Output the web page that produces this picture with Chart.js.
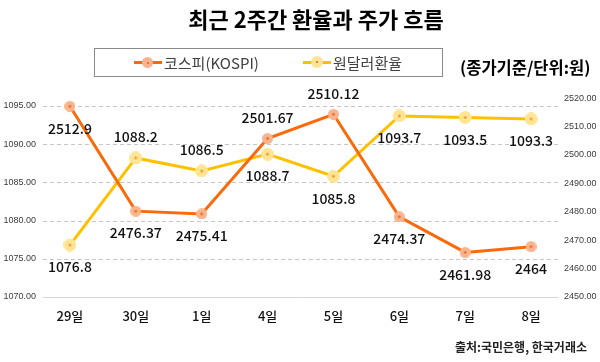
<!DOCTYPE html>
<html><head><meta charset="utf-8">
<script src="https://cdn.jsdelivr.net/npm/chart.js@4/dist/chart.umd.min.js"></script>
<style>
html,body{margin:0;padding:0;background:#fff;}
#wrap{position:relative;width:600px;height:362px;overflow:hidden;font-family:"Noto Sans CJK KR","Noto Sans",sans-serif;}
canvas{position:absolute;left:0;top:0;}
.t{position:absolute;white-space:nowrap;}
#title{left:116px;width:400px;top:4px;line-height:28px;text-align:center;font-size:22px;font-weight:bold;color:#000;}
#legbox{position:absolute;left:94px;top:48px;width:347px;height:27px;border:1px solid #8a8a8a;}
.lline{position:absolute;height:3px;top:61px;width:28px;}
.ldot{position:absolute;border-radius:50%;}
.ldot i{position:absolute;left:50%;top:50%;width:2px;height:2px;margin:-1px 0 0 -1px;border-radius:50%;background:#e0601a;}
.ltxt{top:52px;line-height:22px;font-size:15px;color:#404040;}
#unit{left:460px;top:55px;line-height:24px;font-size:16.5px;font-weight:bold;color:#000;}
#src{left:455px;top:339px;line-height:16px;font-size:12px;font-weight:bold;color:#222;}
</style></head>
<body>
<div id="wrap">
<canvas id="c" width="600" height="362"></canvas>
<div class="t" id="title">최근 2주간 환율과 주가 흐름</div>
<div id="legbox"></div>
<div class="lline" style="left:134px;background:#FA6A0A"></div>
<div class="ldot" style="left:142px;top:57px;width:11px;height:11px;background:#F9B48E"><i></i></div>
<div class="t ltxt" style="left:164px">코스피(KOSPI)</div>
<div class="lline" style="left:303px;background:#FFC000"></div>
<div class="ldot" style="left:311px;top:56px;width:12px;height:12px;background:#FFE493"><i></i></div>
<div class="t ltxt" style="left:333px">원달러환율</div>
<div class="t" id="unit">(종가기준/단위:원)</div>
<div class="t" id="src">출처:국민은행, 한국거래소</div>
</div>
<script>
// ---- data ----
const categories = ['29일','30일','1일','4일','5일','6일','7일','8일'];
const kospi = [2512.9, 2476.37, 2475.41, 2501.67, 2510.12, 2474.37, 2461.98, 2464];
const won = [1076.8, 1088.2, 1086.5, 1088.7, 1085.8, 1093.7, 1093.5, 1093.3];
const leftTicks = [1070, 1075, 1080, 1085, 1090, 1095];
const rightTicks = [2450, 2460, 2470, 2480, 2490, 2500, 2510, 2520];
// label placement (a = above, b = below)
const kospiPlace = ['b','b','b','a','a','b','b','b'];
const wonPlace = ['b','a','a','b','b','b','b','b'];

function marker(fill, dot, d){
  const c=document.createElement('canvas');c.width=c.height=d;
  const g=c.getContext('2d');
  g.fillStyle=fill;g.beginPath();g.arc(d/2,d/2,d/2,0,Math.PI*2);g.fill();
  g.fillStyle=dot;g.beginPath();g.arc(d/2,d/2,1.2,0,Math.PI*2);g.fill();
  return c;
}
const mK = marker('#F9B48E','#E0601A',11);
const mW = marker('#FFE493','#F08A1A',13);

const gridPlugin={id:'dgrid',beforeDatasetsDraw(chart){
  const ctx=chart.ctx, y=chart.scales.y, a=chart.chartArea;
  ctx.save();ctx.lineWidth=1;
  y.ticks.forEach(t=>{
    const py=Math.round(y.getPixelForValue(t.value))+0.5;
    if(t.value===y.min){ctx.setLineDash([]);ctx.strokeStyle='#d6d6d6';}
    else{ctx.setLineDash([4,3]);ctx.strokeStyle='#c6c6c6';}
    ctx.beginPath();ctx.moveTo(a.left+6,py);ctx.lineTo(a.right-6,py);ctx.stroke();
  });
  ctx.restore();
}};
const labelPlugin={id:'vlabels',afterDatasetsDraw(chart){
  const ctx=chart.ctx;ctx.save();
  ctx.font='500 14px "Noto Sans CJK KR"';ctx.fillStyle='#111';
  ctx.textAlign='center';ctx.textBaseline='middle';
  chart.data.datasets.forEach((ds,i)=>{
    const meta=chart.getDatasetMeta(i);
    meta.data.forEach((pt,j)=>{
      const above=ds.labelPlace[j]==='a';
      ctx.fillText(String(ds.data[j]),pt.x,pt.y+(above?-21:22));
    });
  });
  ctx.restore();
}};

const tickFont={family:'"Liberation Sans Narrow","Liberation Sans",sans-serif',size:9};
new Chart(document.getElementById('c'),{
  type:'line',
  data:{labels:categories,datasets:[
    {label:'코스피(KOSPI)',data:kospi,yAxisID:'y2',borderColor:'#FA6A0A',backgroundColor:'#FA6A0A',borderWidth:3,pointStyle:mK,pointRadius:6,tension:0,clip:false,labelPlace:kospiPlace},
    {label:'원달러환율',data:won,yAxisID:'y',borderColor:'#FFC000',backgroundColor:'#FFC000',borderWidth:3,pointStyle:mW,pointRadius:6,tension:0,clip:false,labelPlace:wonPlace}
  ]},
  options:{
    responsive:false,animation:false,devicePixelRatio:1,
    layout:{padding:{top:106,left:0,right:0,bottom:0}},
    plugins:{legend:{display:false},title:{display:false},tooltip:{enabled:false}},
    scales:{
      x:{offset:true,grid:{display:false,drawTicks:false},border:{display:false},
         ticks:{padding:11,color:'#111',font:{family:'"Noto Sans CJK KR"',size:13,weight:'500'}},
         afterFit(s){s.height=65;}},
      y:{position:'left',min:1070,max:1095,
         afterBuildTicks(s){s.ticks=leftTicks.map(v=>({value:v}));},
         grid:{display:false,drawTicks:false},border:{display:false},
         ticks:{padding:1,autoSkip:false,color:'#3a3a3a',font:tickFont,callback:v=>Number(v).toFixed(2)},
         afterFit(s){s.width=37;}},
      y2:{position:'right',display:false,min:2446.45,max:2513},
      y3:{position:'right',min:2450,max:2517.2,
         afterBuildTicks(s){s.ticks=rightTicks.map(v=>({value:v}));},
         grid:{display:false,drawTicks:false},border:{display:false},
         ticks:{padding:0,autoSkip:false,color:'#3a3a3a',font:tickFont,callback:v=>Number(v).toFixed(2)},
         afterFit(s){s.width=36;}}
    }
  },
  plugins:[gridPlugin,labelPlugin]
});
</script>
</body></html>
